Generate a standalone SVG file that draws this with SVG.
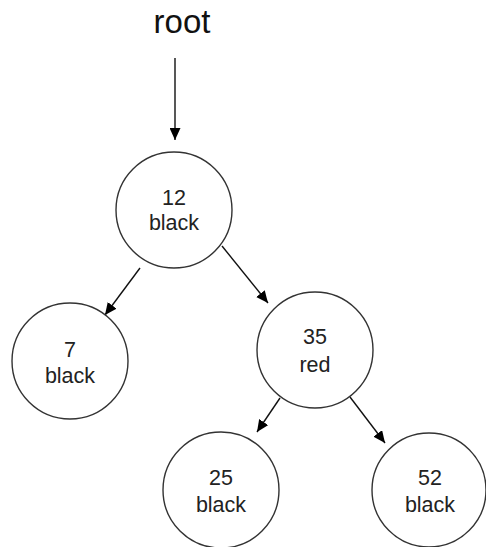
<svg xmlns="http://www.w3.org/2000/svg" width="486" height="547" viewBox="0 0 486 547">
  <defs>
    <marker id="arrow" viewBox="0 0 12 11" refX="12" refY="5.5" markerWidth="12" markerHeight="11" markerUnits="userSpaceOnUse" orient="auto">
      <path d="M0,0 L12,5.5 L0,11 Z" fill="#000"/>
    </marker>
  </defs>
  <style>
    .node circle { fill: #fff; stroke: #333; stroke-width: 1.4; }
    .node text { font-family: "Liberation Sans", Arial, sans-serif; font-size: 21.5px; fill: #222; text-anchor: middle; }
    .edge { stroke: #111; stroke-width: 1.4; fill: none; marker-end: url(#arrow); }
    .title { font-family: "Liberation Sans", Arial, sans-serif; font-size: 33px; fill: #111; text-anchor: middle; }
  </style>
  <rect width="486" height="547" fill="#fff"/>

  <text class="title" x="182" y="33">root</text>

  <g id="connectors">
    <line class="edge" x1="175" y1="58" x2="175" y2="140"/>
    <line class="edge" x1="140" y1="268" x2="105" y2="315"/>
    <line class="edge" x1="222" y1="246" x2="268" y2="303"/>
    <line class="edge" x1="280" y1="398" x2="257" y2="432"/>
    <line class="edge" x1="350" y1="397" x2="385" y2="443"/>
  </g>

  <g id="node-12" class="node">
    <circle cx="174" cy="210" r="58"/>
    <text x="174" y="205">12</text>
    <text x="174" y="230">black</text>
  </g>

  <g id="node-7" class="node">
    <circle cx="70" cy="361" r="58"/>
    <text x="70" y="357">7</text>
    <text x="70" y="383">black</text>
  </g>

  <g id="node-35" class="node">
    <circle cx="315" cy="350" r="58"/>
    <text x="315" y="344">35</text>
    <text x="315" y="372">red</text>
  </g>

  <g id="node-25" class="node">
    <circle cx="221" cy="490" r="58"/>
    <text x="221" y="485">25</text>
    <text x="221" y="512">black</text>
  </g>

  <g id="node-52" class="node">
    <circle cx="429" cy="490" r="57"/>
    <text x="430" y="485">52</text>
    <text x="430" y="512">black</text>
  </g>
</svg>
